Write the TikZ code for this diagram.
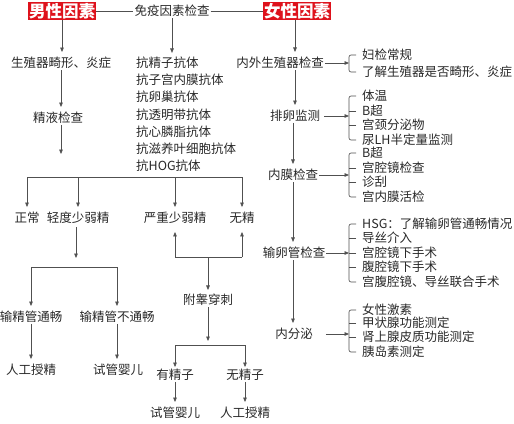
\documentclass[tikz,border=0pt]{standalone}
\usepackage{fontspec}
\setmainfont{Noto Sans CJK SC}
\usepackage{xcolor}
\definecolor{ColR}{RGB}{222,18,28}
\definecolor{ColT}{RGB}{40,40,40}
\definecolor{ColL}{RGB}{80,80,80}
\usepackage{tikz}
\usetikzlibrary{arrows.meta}
\tikzstyle{Box}=[fill=ColR,text=white,inner sep=1pt,
font=\fontsize{16.5}{18}\selectfont\bfseries]
\tikzstyle{Txt}=[text=ColT,inner sep=1pt,font=\fontsize{12.5}{14}\selectfont]
\tikzstyle{Item}=[Txt,anchor=west,inner sep=0pt]
\tikzstyle{Edge}=[draw=ColL,line width=0.65pt]
\tikzstyle{Arrow}=[Edge,-{Triangle[length=4.5pt,width=3.6pt]}]
\tikzstyle{Down}=[Arrow,shorten >=4pt]
\tikzstyle{Brace}=[Edge,rounded corners=2pt]

\begin{document}
\begin{tikzpicture}[x=1pt,y=-1pt]
        \useasboundingbox (0,0) rectangle (514,423);
        \node[Box](m)at(62,11){男性因素};
        \node[Txt](im)at(172,11){免疫因素检查};
        \node[Box](f)at(297,11){女性因素};
        \draw[Edge](m.east)--(im.west);
        \draw[Edge](im.east)--(f.west);
        \node[Item](a1)at(136,63){抗精子抗体};
        \node[Item](a2)at(136,80){抗子宫内膜抗体};
        \node[Item](a3)at(136,97){抗卵巢抗体};
        \node[Item](a4)at(136,115){抗透明带抗体};
        \node[Item](a5)at(136,132){抗心膦脂抗体};
        \node[Item](a6)at(136,149){抗滋养叶细胞抗体};
        \node[Item](a7)at(136,166){抗HOG抗体};
        \draw[Down](im.south)--(im.south|-a1.north);
        \node[Txt](g)at(61,63){生殖器畸形、炎症};
        \node[Txt](s)at(58,118){精液检查};
        \draw[Down](m.south)--(m.south|-g.north);
        \draw[Down](g.south)--(g.south|-s.north);
        \coordinate(s1)at(61,154);
        \draw[Arrow](s1|-s.south)--(s1);
        \coordinate(b1)at(0,177);
        \node[Txt](n1)at(27,218){正常};
        \node[Txt](n2)at(78,218){轻度少弱精};
        \node[Txt](n3)at(175,218){严重少弱精};
        \node[Txt](n4)at(242,218){无精};
        \draw[Edge](n1|-b1)--(n4|-b1);
        \draw[Down](n1|-b1)--(n1.north);
        \draw[Down](n2|-b1)--(n2.north);
        \draw[Down](n3|-b1)--(n3.north);
        \draw[Down](n4|-b1)--(n4.north);
        \coordinate(b2)at(76,258);
        \draw[Arrow,shorten <=2pt](b2|-n2.south)--(b2);
        \coordinate(b3)at(0,267);
        \node[Txt](p1)at(31,317){输精管通畅};
        \node[Txt](p2)at(117,317){输精管不通畅};
        \draw[Edge](p1|-b3)--(p2|-b3);
        \draw[Down](p1|-b3)--(p1.north);
        \draw[Down](p2|-b3)--(p2.north);
        \node[Txt](r1)at(31,370){人工授精};
        \node[Txt](r2)at(118,370){试管婴儿};
        \draw[Down](p1.south)--(r1.north);
        \draw[Down](p2.south)--(p2.south|-r2.north);
        \coordinate(b4)at(0,257);
        \draw[Edge](n3|-b4)--(n4|-b4);
        \draw[Arrow,shorten >=7pt](n3|-b4)--(n3.south);
        \draw[Arrow,shorten >=7pt](n4|-b4)--(n4.south);
        \node[Txt](e)at(208,300){附睾穿刺};
        \draw[Arrow,shorten >=3pt](e|-b4)--(e.north);
        \coordinate(b5)at(208,341);
        \draw[Arrow](e.south)--(b5);
        \coordinate(b6)at(0,345);
        \node[Txt](q1)at(175,375){有精子};
        \node[Txt](q2)at(245,375){无精子};
        \draw[Edge](q1|-b6)--(q2|-b6);
        \draw[Arrow,shorten >=1pt](q1|-b6)--(q1.north);
        \draw[Arrow,shorten >=1pt](q2|-b6)--(q2.north);
        \node[Txt](t1)at(175,413){试管婴儿};
        \node[Txt](t2)at(245,413){人工授精};
        \draw[Down](q1.south)--(t1.north);
        \draw[Down](q2.south)--(t2.north);
        \coordinate(fx)at(295,0);
        \coordinate(k)at(349,0);
        \node[Txt](f1)at(280,63){内外生殖器检查};
        \node[Txt](f2)at(295,116){排卵监测};
        \node[Txt](f3)at(293,175){内膜检查};
        \node[Txt](f4)at(294,253){输卵管检查};
        \node[Txt](f5)at(294,334){内分泌};
        \draw[Down](fx|-f.south)--(fx|-f1.north);
        \draw[Down](fx|-f1.south)--(fx|-f2.north);
        \draw[Down](f3|-f2.south)--(f3.north);
        \draw[Down](f3.south)--(f3.south|-f4.north);
        \draw[Down](f3.south|-f4.south)--(f3.south|-f5.north);
        \node[Item](i1)at(362,55){妇检常规};
        \node[Item](i2)at(362,72){了解生殖器是否畸形、炎症};
        \draw[Brace]([xshift=-6pt]i1.west)--++(-7,0)|-([xshift=-6pt]i2.west);
        \draw[Arrow](f1.east)--(f1.east-|k);
        \node[Item](j1)at(362,96){体温};
        \node[Item](j2)at(362,111){B超};
        \node[Item](j3)at(362,125){宫颈分泌物};
        \node[Item](j4)at(362,140){尿LH半定量监测};
        \draw[Brace]([xshift=-6pt]j1.west)--++(-7,0)|-([xshift=-6pt]j4.west);
        \draw[Edge]([xshift=-6pt]j2.west)--++(-7,0);
        \draw[Edge]([xshift=-6pt]j3.west)--++(-7,0);
        \draw[Arrow,shorten <=3pt](f2.east)--(f2.east-|k);
        \node[Item](l1)at(362,153){B超};
        \node[Item](l2)at(362,168){宫腔镜检查};
        \node[Item](l3)at(362,182){诊刮};
        \node[Item](l4)at(362,197){宫内膜活检};
        \draw[Brace]([xshift=-6pt]l1.west)--++(-7,0)|-([xshift=-6pt]l4.west);
        \draw[Edge]([xshift=-6pt]l2.west)--++(-7,0);
        \draw[Edge]([xshift=-6pt]l3.west)--++(-7,0);
        \draw[Arrow](f3.east)--(f3.east-|k);
        \node[Item](h1)at(362,224){HSG：了解输卵管通畅情况};
        \node[Item](h2)at(362,238){导丝介入};
        \node[Item](h3)at(362,253){宫腔镜下手术};
        \node[Item](h4)at(362,267){腹腔镜下手术};
        \node[Item](h5)at(362,282){宫腹腔镜、导丝联合手术};
        \draw[Brace]([xshift=-6pt]h1.west)--++(-7,0)|-([xshift=-6pt]h5.west);
        \draw[Edge]([xshift=-6pt]h2.west)--++(-7,0);
        \draw[Edge]([xshift=-6pt]h3.west)--++(-7,0);
        \draw[Edge]([xshift=-6pt]h4.west)--++(-7,0);
        \draw[Arrow](f4.east)--(f4.east-|k);
        \node[Item](d1)at(362,310){女性激素};
        \node[Item](d2)at(362,323){甲状腺功能测定};
        \node[Item](d3)at(362,337){肾上腺皮质功能测定};
        \node[Item](d4)at(362,352){胰岛素测定};
        \draw[Brace]([xshift=-6pt]d1.west)--++(-7,0)|-([xshift=-6pt]d4.west);
        \draw[Edge]([xshift=-6pt]d2.west)--++(-7,0);
        \draw[Edge]([xshift=-6pt]d3.west)--++(-7,0);
        \draw[Arrow,shorten <=12pt](f5.east)--(f5.east-|k);
    \end{tikzpicture}
\end{document}
